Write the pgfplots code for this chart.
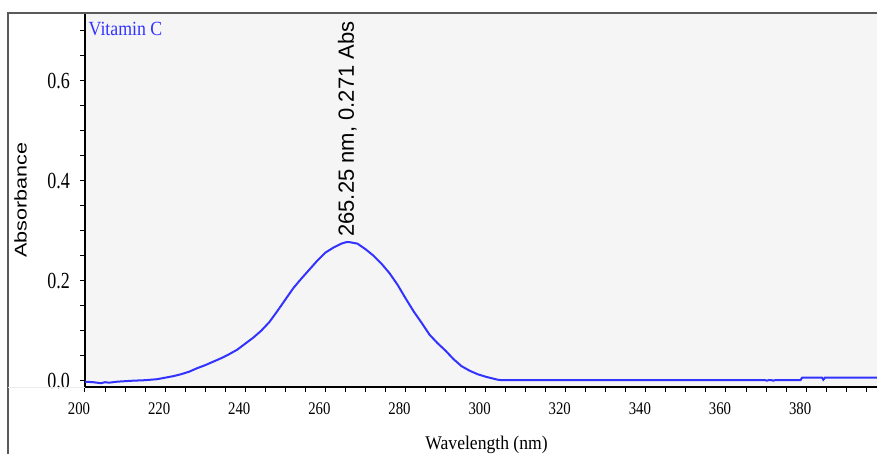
\documentclass[border=0pt]{standalone}
\usepackage{fontspec}
\setmainfont{Liberation Serif}
\newfontfamily\arial{Liberation Sans}
\usepackage{graphicx}
\usepackage{pgfplots}
\pgfplotsset{compat=1.18}
\definecolor{plotbg}{RGB}{245,245,245}
\definecolor{specblue}{RGB}{51,51,255}
\definecolor{framegrey}{RGB}{90,90,90}
% the screen capture is a little taller than wide: stretch text vertically
\newcommand{\tall}[2]{\scalebox{1}[#1]{#2}}

\begin{document}
\begin{tikzpicture}
\path[use as bounding box] (-42.5pt,-33.5pt) rectangle (396pt,193.5pt);
\begin{axis}[
    scale only axis,
    width=396pt, height=187pt,
    xmin=200, xmax=397.7,
    ymin=-0.0126, ymax=0.735,
    axis background/.style={fill=plotbg},
    axis x line*=bottom, axis y line*=left,
    axis line style={black, line width=1pt},
    tick align=outside,
    major tick length=2.5pt, minor tick length=2.5pt,
    tick style={black, line width=0.5pt},
    xtick={200,220,...,380},
    minor xtick={205,210,...,395},
    xticklabels={\tall{1.2}{200},\tall{1.2}{220},\tall{1.2}{240},\tall{1.2}{260},\tall{1.2}{280},
                 \tall{1.2}{300},\tall{1.2}{320},\tall{1.2}{340},\tall{1.2}{360},\tall{1.2}{380}},
    x tick label style={font=\fontsize{7.4}{8}\selectfont, xshift=-3pt, yshift=-1.75pt},
    ytick={0,0.2,0.4,0.6},
    minor ytick={0.05,0.1,0.15,0.25,0.3,0.35,0.45,0.5,0.55,0.65,0.7},
    yticklabels={\tall{1.28}{0.0},\tall{1.28}{0.2},\tall{1.28}{0.4},\tall{1.28}{0.6}},
    y tick label style={font=\fontsize{9}{9}\selectfont, xshift=-1.5pt},
    xlabel={\tall{1.1}{Wavelength (nm)}},
    xlabel style={at={(axis description cs:0.507,-0.155)}, anchor=center,
                  font=\fontsize{8.8}{9}\selectfont},
    ylabel={\scalebox{1.27}[1]{Absorbance}},
    ylabel style={at={(axis description cs:-0.0814,0.5)}, anchor=center,
                  font=\arial\fontsize{8.5}{9}\selectfont},
    clip=false,
]
\addplot[specblue, line width=1pt] table {
x y
200 -0.002
202 -0.003
204 -0.005
205 -0.003
206 -0.004
208 -0.002
210 -0.001
212 0.000
215 0.001
218 0.003
220 0.006
222 0.009
224 0.013
226 0.018
228 0.025
230 0.031
232 0.038
234 0.045
236 0.053
238 0.062
240 0.074
242 0.086
244 0.100
246 0.117
248 0.139
250 0.162
252 0.185
254 0.204
256 0.222
258 0.240
260 0.256
262 0.266
264 0.274
265.25 0.277
266 0.277
268 0.274
270 0.263
272 0.250
274 0.234
276 0.215
278 0.192
280 0.165
282 0.139
284 0.116
286 0.092
288 0.075
290 0.060
292 0.043
294 0.029
296 0.020
298 0.013
300 0.008
302 0.004
303 0.002
304 0.001
369.8 0.001
370.2 0.000
370.6 0.001
371.4 0.001
371.8 0.000
372.2 0.001
378.6 0.001
379.0 0.006
384.0 0.006
384.3 0.002
384.7 0.006
397.7 0.006
};
\node[anchor=base west, inner sep=0pt, text=specblue, font=\fontsize{8.9}{9}\selectfont]
    at (axis description cs:0.0042,0.9385) {\tall{1.13}{Vitamin C}};
\node[rotate=90, anchor=west, inner sep=0pt, font=\arial\fontsize{11}{11}\selectfont]
    at (axis cs:265.5,0.287) {265.25 nm, 0.271 Abs};
\end{axis}
\draw[framegrey, line width=0.65pt] (-38.5pt,-33.5pt) -- (-38.5pt,187pt) -- (396pt,187pt);
\draw[black!8, line width=0.5pt] (-38.5pt,-0.3pt) -- (0pt,-0.3pt);
\end{tikzpicture}
\end{document}
